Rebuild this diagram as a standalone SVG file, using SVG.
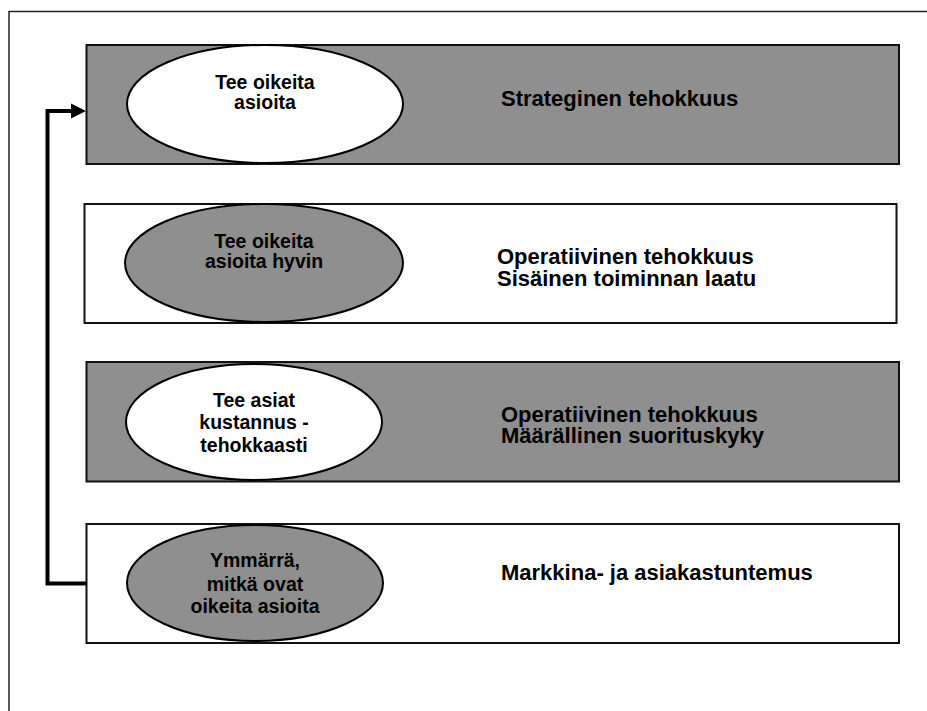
<svg xmlns="http://www.w3.org/2000/svg" width="927" height="711" viewBox="0 0 927 711">
<defs>
<style>
.frame{fill:none;stroke:#222;stroke-width:1.5}
.box{stroke:#111;stroke-width:2}
.gray{fill:#8f8f8f}
.white{fill:#fff}
.ell{stroke:#000;stroke-width:2}
.et{font-family:"Liberation Sans",Arial,sans-serif;font-weight:bold;font-size:19.5px;fill:#000;text-anchor:middle}
.rt{font-family:"Liberation Sans",Arial,sans-serif;font-weight:bold;font-size:22px;fill:#000}
.conn{fill:none;stroke:#000;stroke-width:4}
.head{fill:#000}
</style>
</defs>
<rect width="927" height="711" fill="#fff"/>
<path class="frame" d="M9,711 L9,11.5 L927,11.5"/>
<g id="n1">
<rect class="box gray" x="86.5" y="45" width="812.5" height="119"/>
<ellipse class="ell white" cx="265" cy="104" rx="138" ry="59"/>
<text class="et" x="265" y="89">Tee oikeita</text>
<text class="et" x="265" y="109">asioita</text>
<text class="rt" x="501" y="106">Strateginen tehokkuus</text>
</g>
<g id="n2">
<rect class="box white" x="84.5" y="204" width="812" height="119"/>
<ellipse class="ell gray" cx="264" cy="263" rx="139" ry="59"/>
<text class="et" x="264" y="248">Tee oikeita</text>
<text class="et" x="264" y="268">asioita hyvin</text>
<text class="rt" x="497" y="264">Operatiivinen tehokkuus</text>
<text class="rt" x="497" y="286">Sisäinen toiminnan laatu</text>
</g>
<g id="n3">
<rect class="box gray" x="86.5" y="362" width="812.5" height="119.5"/>
<ellipse class="ell white" cx="254" cy="422" rx="128" ry="58"/>
<text class="et" x="254" y="407">Tee asiat</text>
<text class="et" x="254" y="429">kustannus -</text>
<text class="et" x="254" y="452">tehokkaasti</text>
<text class="rt" x="501" y="422">Operatiivinen tehokkuus</text>
<text class="rt" x="501" y="443">Määrällinen suorituskyky</text>
</g>
<g id="n4">
<rect class="box white" x="86.5" y="524" width="812.5" height="119"/>
<ellipse class="ell gray" cx="255" cy="583" rx="128" ry="58"/>
<text class="et" x="255" y="567">Ymmärrä,</text>
<text class="et" x="255" y="591">mitkä ovat</text>
<text class="et" x="255" y="613">oikeita asioita</text>
<text class="rt" x="501" y="580">Markkina- ja asiakastuntemus</text>
</g>
<g id="connectors">
<path class="conn" d="M86,583.5 L47.5,583.5 L47.5,111 L72,111"/>
<path class="head" d="M71,103.5 L86,111 L71,118.5 Z"/>
</g>
</svg>
